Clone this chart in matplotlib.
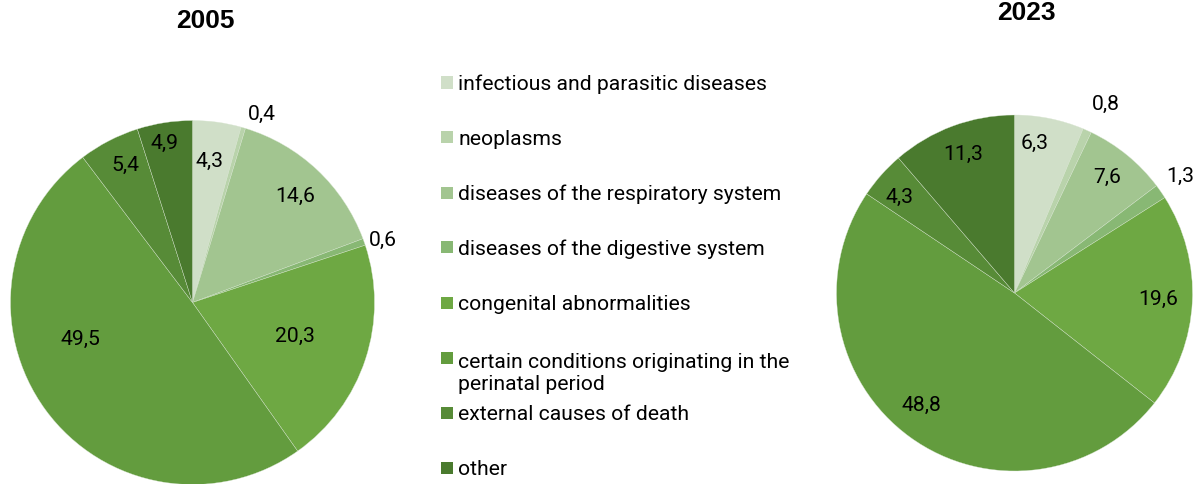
import numpy as np
import matplotlib.pyplot as plt
from matplotlib.patches import Rectangle

categories = ['infectious and parasitic diseases',
              'neoplasms',
              'diseases of the respiratory system',
              'diseases of the digestive system',
              'congenital abnormalities',
              'certain conditions originating in the\nperinatal period',
              'external causes of death',
              'other']
years = ['2005', '2023']
values_2005 = [4.3, 0.4, 14.6, 0.6, 20.3, 49.5, 5.4, 4.9]
values_2023 = [6.3, 0.8, 7.6, 1.3, 19.6, 48.8, 4.3, 11.3]
colors = ['#d0dfc8', '#b9d3ab', '#a2c590', '#88b874',
          '#6ea843', '#639c3e', '#578b37', '#4a7a2e']

W, H = 1200, 484
fig = plt.figure(figsize=(W / 100, H / 100), dpi=100)
fig.patch.set_facecolor('white')
LABEL_FONT = ['Roboto', 'DejaVu Sans']
FS = 15.2


def pie_axes(cx, cy, r):
    # pixel centre (measured from top) and radius -> axes holding a unit pie
    return fig.add_axes([(cx - r) / W, (H - cy - r) / H, 2 * r / W, 2 * r / H])


def draw_pie(ax, values, dists, offsets):
    wedges, _ = ax.pie(values, colors=colors, startangle=90, counterclock=False,
                       radius=1, wedgeprops=dict(edgecolor='#d9e6d2', linewidth=0.25))
    for w in wedges:
        w.set_clip_on(False)
    ax.set_xlim(-1, 1)
    ax.set_ylim(-1, 1)
    ax.axis('off')
    cum = np.cumsum([0] + list(values))
    total = cum[-1]
    for i, v in enumerate(values):
        ang = np.deg2rad((cum[i] + cum[i + 1]) / 2 / total * 360 + offsets[i])
        ax.text(dists[i] * np.sin(ang), dists[i] * np.cos(ang),
                f'{v:.1f}'.replace('.', ','), ha='center', va='center',
                fontsize=FS, family=LABEL_FONT, color='black')


ax1 = pie_axes(192.5, 302.5, 182)
draw_pie(ax1, values_2005,
         [0.78, 1.1, 0.81, 1.1, 0.59, 0.65, 0.84, 0.89],
         [-0.7, 4.2, 0.8, 1.4, 0, 17.8, 1.4, -1.2])

ax2 = pie_axes(1014.5, 293, 178)
draw_pie(ax2, values_2023,
         [0.85, 1.18, 0.83, 1.14, 0.81, 0.82, 0.84, 0.83],
         [-3.8, 1.7, -0.5, -0.4, -0.5, 3.5, -1.6, 0])

# titles
fig.text(205 / W, 1 - 20.5 / H, years[0], ha='center', va='center',
         fontsize=19, fontweight='bold', family='Liberation Sans')
fig.text(1026 / W, 1 - 13 / H, years[1], ha='center', va='center',
         fontsize=19, fontweight='bold', family='Liberation Sans')

# legend (baseline of the bottom line is used, so push multi-line entries down)
for i, (cat, col) in enumerate(zip(categories, colors)):
    yc = 82.5 + 55 * i
    extra = cat.count('\n') * 25
    fig.patches.append(Rectangle((441 / W, 1 - (yc + 6) / H), 12 / W, 12 / H,
                                 transform=fig.transFigure, facecolor=col,
                                 edgecolor='none'))
    fig.text(458 / W, 1 - (yc + 7.5 + extra) / H, cat, ha='left', va='baseline',
             fontsize=FS, family=LABEL_FONT, color='black', linespacing=1.2)

fig.savefig('out.png', dpi=100)
